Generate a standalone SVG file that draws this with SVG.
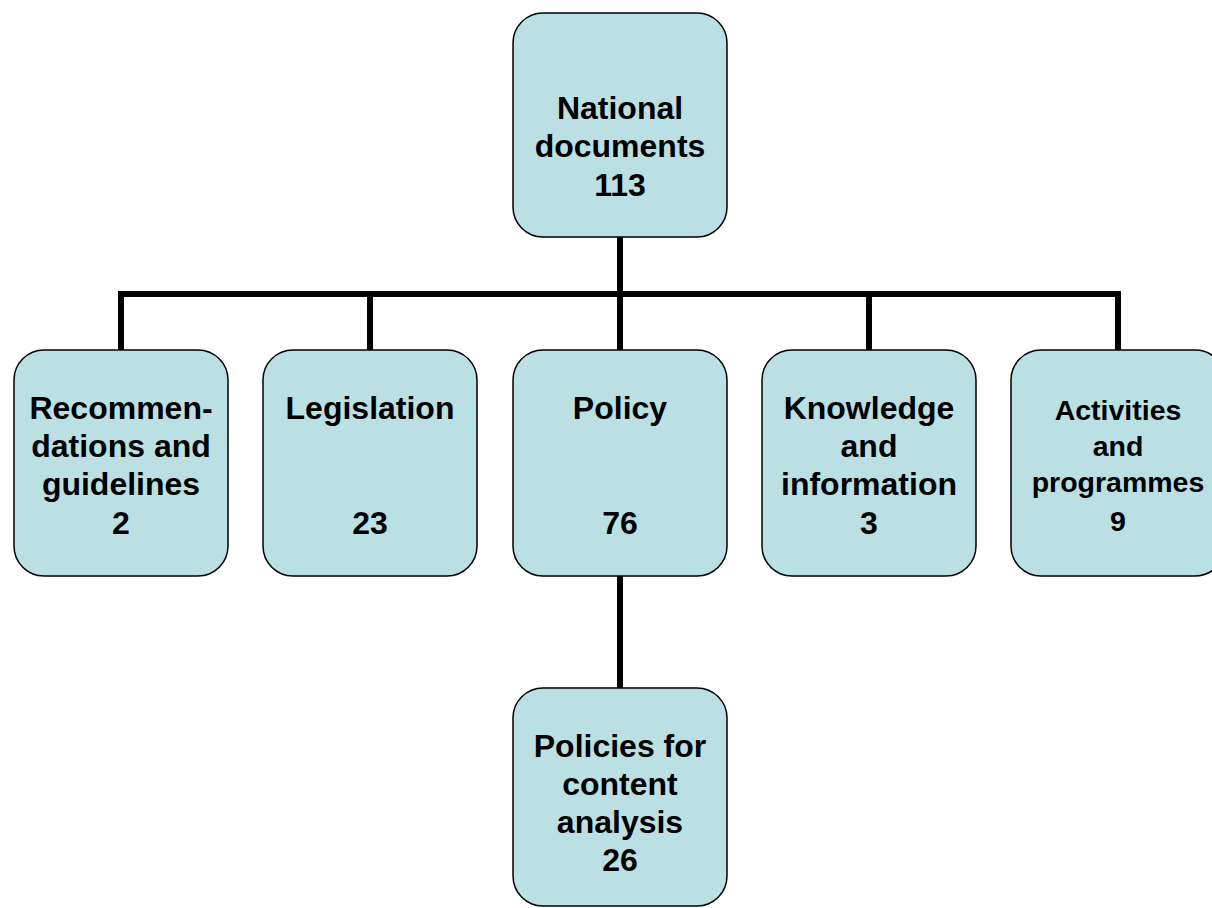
<svg xmlns="http://www.w3.org/2000/svg" width="1212" height="908" viewBox="0 0 1212 908">
<style>
.box{fill:#BBE0E3;stroke:#000;stroke-width:1.5}
.t{font-family:"Liberation Sans",Arial,sans-serif;font-weight:bold;font-size:32px;text-anchor:middle;fill:#000}
.s{font-size:28.5px}
.c{fill:none;stroke:#000;stroke-width:6;stroke-linecap:square}
</style>
<rect width="1212" height="908" fill="#fff"/>
<g id="connectors">
<path class="c" d="M620 238V294M121 294H1118M121 294V349M370 294V349M620 294V349M869 294V349M1118 294V349M620 577V687"/>
</g>
<g id="national">
<rect class="box" x="513" y="13" width="214" height="224" rx="30"/>
<text class="t" x="620" y="119">National</text>
<text class="t" x="620" y="157">documents</text>
<text class="t" x="620" y="196">113</text>
</g>
<g id="recommendations">
<rect class="box" x="14" y="350" width="214" height="226" rx="30"/>
<text class="t" x="121" y="419">Recommen-</text>
<text class="t" x="121" y="457">dations and</text>
<text class="t" x="121" y="495">guidelines</text>
<text class="t" x="121" y="534">2</text>
</g>
<g id="legislation">
<rect class="box" x="263" y="350" width="214" height="226" rx="30"/>
<text class="t" x="370" y="419">Legislation</text>
<text class="t" x="370" y="534">23</text>
</g>
<g id="policy">
<rect class="box" x="513" y="350" width="214" height="226" rx="30"/>
<text class="t" x="620" y="419">Policy</text>
<text class="t" x="620" y="534">76</text>
</g>
<g id="knowledge">
<rect class="box" x="762" y="350" width="214" height="226" rx="30"/>
<text class="t" x="869" y="419">Knowledge</text>
<text class="t" x="869" y="457">and</text>
<text class="t" x="869" y="495">information</text>
<text class="t" x="869" y="534">3</text>
</g>
<g id="activities">
<rect class="box" x="1011" y="350" width="214" height="226" rx="30"/>
<text class="t s" x="1118" y="420">Activities</text>
<text class="t s" x="1118" y="456">and</text>
<text class="t s" x="1118" y="492">programmes</text>
<text class="t s" x="1118" y="531">9</text>
</g>
<g id="content-analysis">
<rect class="box" x="513" y="688" width="214" height="218" rx="30"/>
<text class="t" x="620" y="757">Policies for</text>
<text class="t" x="620" y="795">content</text>
<text class="t" x="620" y="833">analysis</text>
<text class="t" x="620" y="871">26</text>
</g>
</svg>
